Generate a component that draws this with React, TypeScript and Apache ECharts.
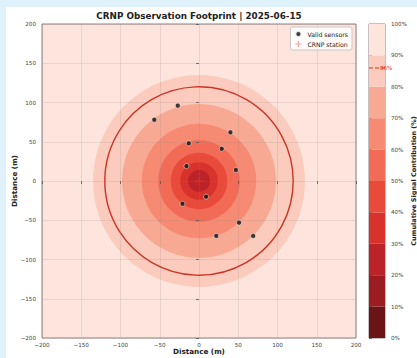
import React, { useEffect, useRef } from "react";
import * as echarts from "echarts";

// Sensor positions (m)
const sensorX = [-57, -27, 40, -13, 29, -16, 47, 9, -21, 51, 22, 69];
const sensorY = [78, 96, 62, 48, 41, 19, 14, -20, -29, -53, -70, -70];

// Station
const stationX = [0];
const stationY = [0];

// Colorbar bands (%), bottom to top
const bandLow = [0, 10, 20, 30, 40, 50, 60, 70, 80, 90];
const bandHigh = [10, 20, 30, 40, 50, 60, 70, 80, 90, 100];
const bandColors = [
  "#6a1418",
  "#9b1d21",
  "#bb2328",
  "#d8322d",
  "#e84b3a",
  "#f26b56",
  "#f68a72",
  "#f8a993",
  "#fbccbd",
  "#fde4dc",
];

// Contour levels (%) and their radii (m)
const contourLevels = [90, 80, 70, 60, 50, 40, 30];
const contourRadii = [135, 98, 73, 52, 36, 24, 14];

// Highlighted footprint
const footprintLevel = 86;
const footprintRadius = 120;

const axisTicks = [-200, -150, -100, -50, 0, 50, 100, 150, 200];

const FONT = "DejaVu Sans";
const minusFmt = (v: number) => String(v).replace("-", "\u2212");

export default function App() {
  const ref = useRef<HTMLDivElement>(null);

  useEffect(() => {
    if (!ref.current) return;
    const chart = echarts.init(ref.current, null, { renderer: "svg" });

    const frame = "#8c8080";
    const grid = "rgba(150,130,130,0.22)";

    const mainAxis = (isX: boolean) => ({
      type: "value",
      gridIndex: 0,
      min: axisTicks[0],
      max: axisTicks[axisTicks.length - 1],
      interval: 50,
      name: "Distance (m)",
      nameLocation: "middle",
      nameMoveOverlap: false,
      nameGap: isX ? 10 : 24,
      nameTextStyle: { fontWeight: "bold", fontSize: 7.2, color: "#222", fontFamily: FONT },
      axisLine: { show: false },
      axisTick: { show: true, length: 3, lineStyle: { color: "#555", width: 0.8 } },
      axisLabel: {
        fontSize: 5.6,
        color: "#444",
        margin: isX ? 4 : 6,
        fontFamily: FONT,
        formatter: minusFmt,
      },
      splitLine: { show: true, lineStyle: { color: grid, width: 0.8 } },
      z: 3,
    });

    const option: any = {
      animation: false,
      textStyle: { fontFamily: FONT },
      graphic: [
        {
          type: "text",
          x: 199,
          y: 16,
          style: {
            text: "CRNP Observation Footprint | 2025-06-15",
            fontFamily: FONT,
            fontWeight: "bold",
            fontSize: 8.8,
            fill: "#222",
            textAlign: "center",
            textVerticalAlign: "middle",
          },
        },
      ],
      grid: [
        {
          left: 42,
          top: 24,
          width: 314,
          height: 314,
          show: true,
          containLabel: false,
          outerBoundsMode: "none",
          backgroundColor: bandColors[9],
          borderColor: frame,
          borderWidth: 1,
        },
        {
          left: 369,
          top: 24,
          width: 16,
          height: 314,
          show: true,
          containLabel: false,
          outerBoundsMode: "none",
          backgroundColor: "transparent",
          borderColor: frame,
          borderWidth: 1,
        },
      ],
      xAxis: [
        mainAxis(true),
        { type: "value", gridIndex: 1, min: 0, max: 1, show: false },
      ],
      yAxis: [
        mainAxis(false),
        {
          type: "value",
          gridIndex: 1,
          min: 0,
          max: 100,
          interval: 10,
          position: "right",
          name: "Cumulative Signal Contribution (%)",
          nameLocation: "middle",
          nameRotate: 90,
          nameGap: 24,
          nameTextStyle: { fontWeight: "bold", fontSize: 6.5, color: "#222", fontFamily: FONT },
          axisLine: { show: false },
          axisTick: { show: true, length: 3, lineStyle: { color: "#555", width: 0.8 } },
          axisLabel: { fontSize: 5.6, color: "#444", margin: 6, formatter: "{value}%", fontFamily: FONT },
          splitLine: { show: false },
        },
      ],
      legend: {
        data: ["Valid sensors", "CRNP station"],
        orient: "vertical",
        right: 65,
        top: 27,
        backgroundColor: "rgba(255,255,255,0.85)",
        borderColor: "#bbb",
        borderWidth: 0.8,
        borderRadius: 2,
        padding: [3, 4, 3, 4],
        itemGap: 3,
        itemWidth: 8,
        itemHeight: 6,
        textStyle: { fontSize: 6.2, color: "#222", fontFamily: FONT },
      },
      series: [
        {
          type: "custom",
          name: "contours",
          xAxisIndex: 0,
          yAxisIndex: 0,
          z: 1,
          silent: true,
          data: contourRadii.map((r, i) => [r, contourLevels[i] / 10 - 1]),
          renderItem: (_p: any, api: any) => {
            const c = api.coord([0, 0]);
            const e = api.coord([api.value(0), 0]);
            return {
              type: "circle",
              shape: { cx: c[0], cy: c[1], r: e[0] - c[0] },
              style: { fill: bandColors[api.value(1)] },
            };
          },
        },
        {
          type: "custom",
          name: "footprint",
          xAxisIndex: 0,
          yAxisIndex: 0,
          z: 2,
          silent: true,
          data: [[footprintRadius, footprintLevel]],
          renderItem: (_p: any, api: any) => {
            const c = api.coord([0, 0]);
            const e = api.coord([api.value(0), 0]);
            return {
              type: "circle",
              shape: { cx: c[0], cy: c[1], r: e[0] - c[0] },
              style: { fill: "none", stroke: "#cc3324", lineWidth: 1.4 },
            };
          },
        },
        {
          type: "scatter",
          name: "Valid sensors",
          xAxisIndex: 0,
          yAxisIndex: 0,
          z: 4,
          symbol: "circle",
          symbolSize: 5,
          itemStyle: { color: "#111", borderColor: "#fff", borderWidth: 0.6 },
          data: sensorX.map((x, i) => [x, sensorY[i]]),
        },
        {
          type: "scatter",
          name: "CRNP station",
          xAxisIndex: 0,
          yAxisIndex: 0,
          z: 4,
          symbol: "path://M4,0 L6,0 L6,4 L10,4 L10,6 L6,6 L6,10 L4,10 L4,6 L0,6 L0,4 L4,4 Z",
          symbolSize: 8,
          itemStyle: { color: "#e03a2a", opacity: 0.45 },
          data: stationX.map((x, i) => [x, stationY[i]]),
        },
        {
          type: "custom",
          name: "colorbar",
          xAxisIndex: 1,
          yAxisIndex: 1,
          silent: true,
          data: bandLow.map((lo, i) => [lo, bandHigh[i], i]),
          renderItem: (_p: any, api: any) => {
            const p0 = api.coord([0, api.value(0)]);
            const p1 = api.coord([1, api.value(1)]);
            return {
              type: "rect",
              shape: { x: p0[0], y: p1[1], width: p1[0] - p0[0], height: p0[1] - p1[1] },
              style: { fill: bandColors[api.value(2)] },
            };
          },
        },
        {
          type: "line",
          name: "footprintMark",
          xAxisIndex: 1,
          yAxisIndex: 1,
          symbol: "none",
          silent: true,
          z: 5,
          data: [
            [0, footprintLevel],
            [1, footprintLevel],
          ],
          lineStyle: { color: "#e03020", type: "dashed", width: 1 },
          endLabel: {
            show: true,
            formatter: footprintLevel + "%",
            color: "#e03020",
            fontSize: 5.6,
            fontFamily: FONT,
            distance: -5,
          },
        },
      ],
    };

    chart.setOption(option);
    return () => chart.dispose();
  }, []);

  return (
    <div style={{ position: "absolute", left: 0, top: 0, width: 417, height: 358, background: "#dff1fa" }}>
      <div style={{ position: "absolute", left: 6, top: 7, width: 411, height: 351, background: "#ffffff" }} />
      <div ref={ref} style={{ position: "absolute", left: 0, top: 0, width: 417, height: 358 }} />
    </div>
  );
}
